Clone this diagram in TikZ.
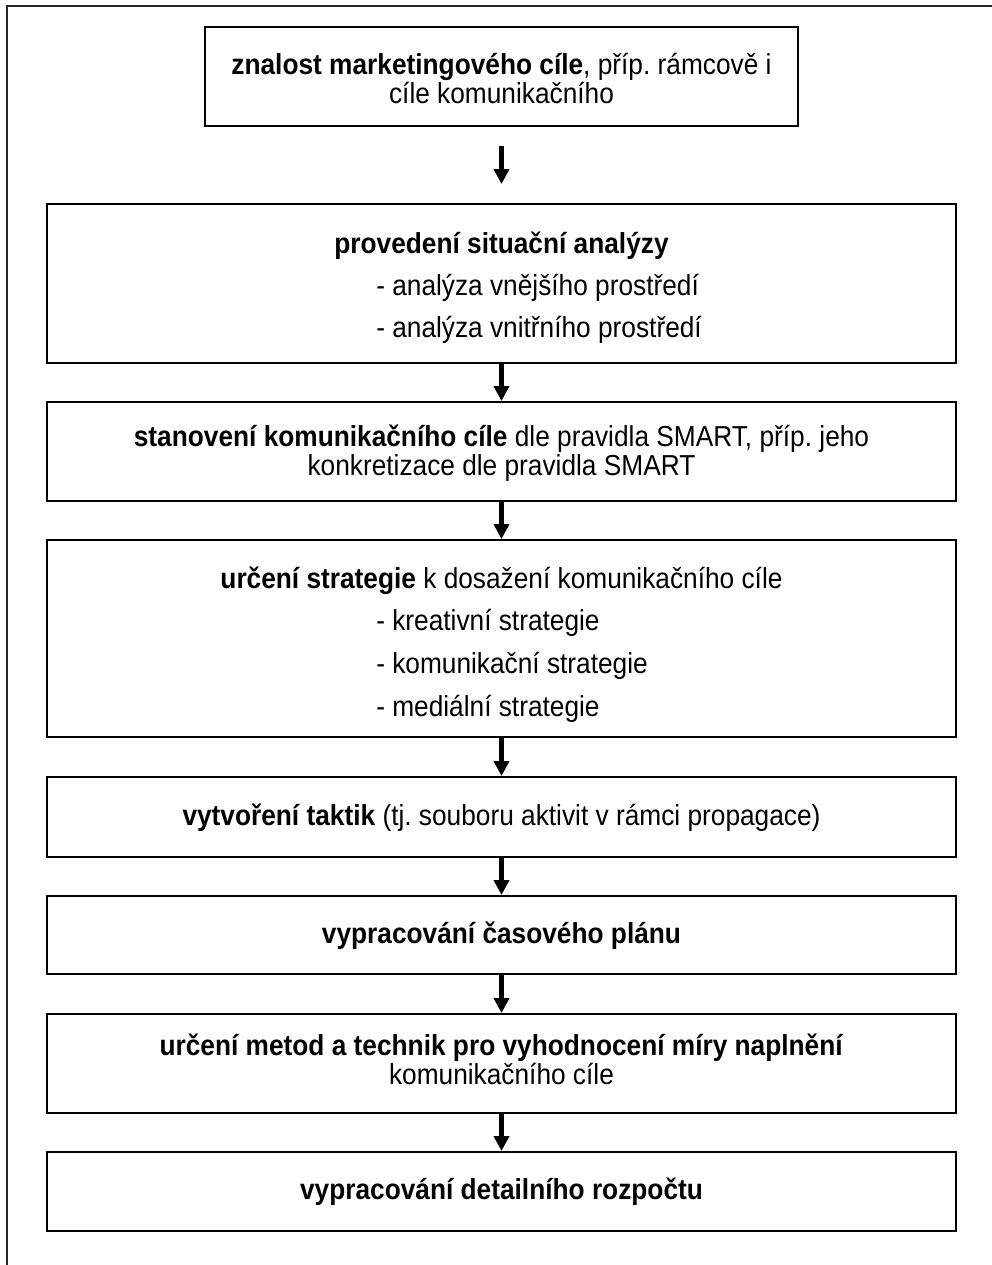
\documentclass[tikz,border=0pt]{standalone}
\usepackage{fontspec}
\setmainfont{Liberation Sans}
\usetikzlibrary{arrows.meta}
\newcommand\tallt[1]{\scalebox{1}[1.1]{#1}}
\begin{document}
\begin{tikzpicture}[x=0.75pt,y=-0.75pt,
  box/.style={draw=black, line width=1.5pt, inner sep=0pt, minimum width=681.75pt},
  txt/.style={font=\fontsize{19.7}{24}\selectfont, inner sep=0pt, anchor=mid},
  ltxt/.style={txt, anchor=mid west},
  flow/.style={line width=3.75pt, -{Triangle[width=11.25pt,length=11.25pt]}}]
\useasboundingbox (0,0) rectangle (992,1265);
% outer frame (open to the right and bottom)
\draw[line width=1.5pt, draw=black!85] (7,1265) -- (7,6) -- (992,6);
% boxes
\node[box, minimum width=444.75pt, minimum height=74.25pt] (b1) at (501.5,76.5) {};
\node[box, minimum height=119.25pt] (b2) at (501.5,283.5) {};
\node[box, minimum height=74.25pt] (b3) at (501.5,451.5) {};
\node[box, minimum height=147.75pt] (b4) at (501.5,638.5) {};
\node[box, minimum height=60pt] (b5) at (501.5,817) {};
\node[box, minimum height=58.5pt] (b6) at (501.5,935) {};
\node[box, minimum height=74.25pt] (b7) at (501.5,1063.5) {};
\node[box, minimum height=59.25pt] (b8) at (501.5,1191.5) {};
% texts
\node[txt] (t1a) at (501.5,71) {\tallt{\textbf{znalost marketingového cíle}, příp.\ rámcově i}};
\node[txt] (t1b) at (501.5,100) {\tallt{cíle komunikačního}};
\node[txt] (t2) at (501.5,250) {\tallt{\textbf{provedení situační analýzy}}};
\node[ltxt] (t2a) at (376,292) {\tallt{- analýza vnějšího prostředí}};
\node[ltxt] (t2b) at (376,334) {\tallt{- analýza vnitřního prostředí}};
\node[txt] (t3a) at (501.5,443) {\tallt{\textbf{stanovení komunikačního cíle} dle pravidla SMART, příp.\ jeho}};
\node[txt] (t3b) at (501.5,472) {\tallt{konkretizace dle pravidla SMART}};
\node[txt] (t4) at (501.5,585) {\tallt{\textbf{určení strategie} k dosažení komunikačního cíle}};
\node[ltxt] (t4a) at (376,627) {\tallt{- kreativní strategie}};
\node[ltxt] (t4b) at (376,670) {\tallt{- komunikační strategie}};
\node[ltxt] (t4c) at (376,713) {\tallt{- mediální strategie}};
\node[txt] (t5) at (501.5,822) {\tallt{\textbf{vytvoření taktik} (tj.\ souboru aktivit v rámci propagace)}};
\node[txt] (t6) at (501.5,940) {\tallt{\textbf{vypracování časového plánu}}};
\node[txt] (t7a) at (501.5,1052) {\tallt{\textbf{určení metod a technik pro vyhodnocení míry naplnění}}};
\node[txt] (t7b) at (501.5,1081) {\tallt{komunikačního cíle}};
\node[txt] (t8) at (501.5,1196) {\tallt{\textbf{vypracování detailního rozpočtu}}};
% arrows
\draw[flow, shorten <=14.25pt, shorten >=14.25pt] (b1.south) -- (b2.north);
\draw[flow] (b2.south) -- (b3.north);
\draw[flow] (b3.south) -- (b4.north);
\draw[flow] (b4.south) -- (b5.north);
\draw[flow] (b5.south) -- (b6.north);
\draw[flow] (b6.south) -- (b7.north);
\draw[flow] (b7.south) -- (b8.north);
\end{tikzpicture}
\end{document}
